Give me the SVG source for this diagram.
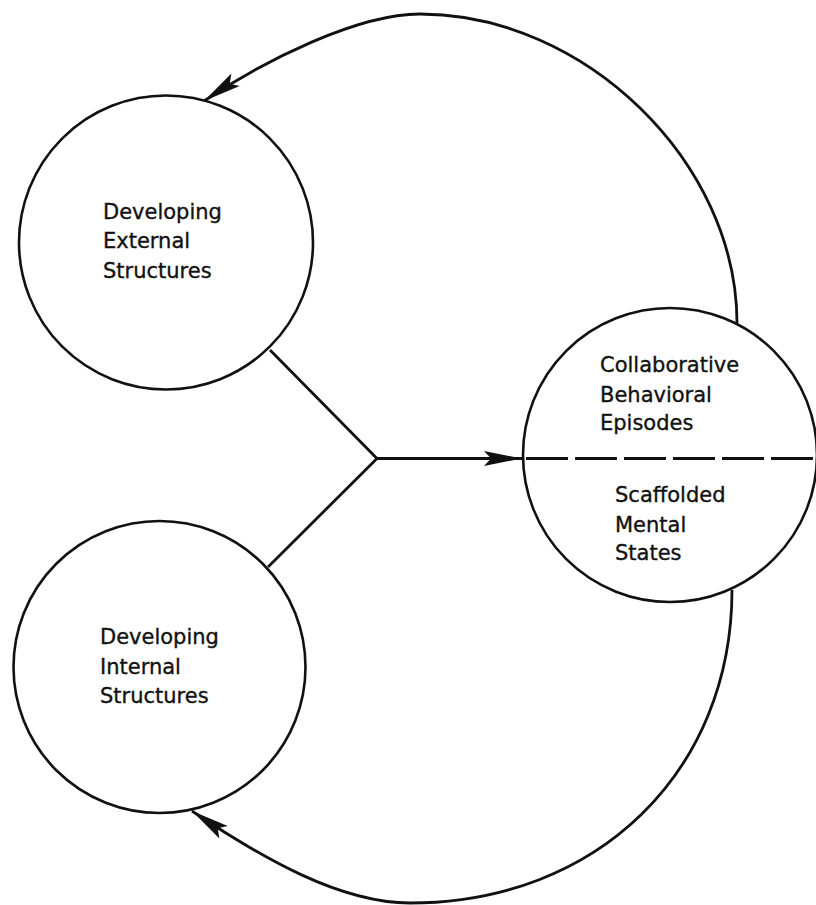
<svg xmlns="http://www.w3.org/2000/svg" width="816" height="905" viewBox="0 0 816 905">
<style>
  .node { fill: #ffffff; stroke: #111111; stroke-width: 2.6; }
  .label { font-family: "DejaVu Sans", "Liberation Sans", sans-serif; font-size: 21px; fill: #111111; stroke: #111111; stroke-width: 0.35; }
  .conn { fill: none; stroke: #111111; stroke-width: 2.8; }
  .dash { fill: none; stroke: #111111; stroke-width: 3; stroke-dasharray: 42 7; }
</style>
<defs>
  <marker id="arrow" markerUnits="userSpaceOnUse" viewBox="-40 -10 42 20" markerWidth="42" markerHeight="20" refX="0" refY="0" orient="auto">
    <path d="M0,0 L-38,-7.5 L-31,0 L-38,7.5 Z" fill="#111111"/>
  </marker>
</defs>
<rect width="816" height="905" fill="#ffffff"/>

<g id="connectors">
  <path class="conn" d="M737,323 C737,162.3 584.8,14 420,14 C358,14 265,60 204,101" marker-end="url(#arrow)"/>
  <path class="conn" d="M732,590 C732,772 596.8,903 410,903 C340,903 262,858 192,811" marker-end="url(#arrow)"/>
  <path class="conn" d="M270,350 L377,458.5 L268,567"/>
  <path class="conn" d="M377,458.5 L522,458.5" marker-end="url(#arrow)"/>
</g>

<g id="external">
  <circle class="node" cx="166" cy="242.5" r="147"/>
  <text class="label" x="103" y="218.5">Developing</text>
  <text class="label" x="103" y="248">External</text>
  <text class="label" x="103" y="277.5">Structures</text>
</g>

<g id="internal">
  <circle class="node" cx="159.5" cy="667" r="146"/>
  <text class="label" x="100" y="644">Developing</text>
  <text class="label" x="100" y="673.5">Internal</text>
  <text class="label" x="100" y="703">Structures</text>
</g>

<g id="episodes">
  <circle class="node" cx="670" cy="455" r="147"/>
  <line class="dash" x1="526" y1="458.5" x2="816" y2="458.5"/>
  <text class="label" x="600" y="372">Collaborative</text>
  <text class="label" x="600" y="401.5">Behavioral</text>
  <text class="label" x="600" y="430">Episodes</text>
  <text class="label" x="615" y="502">Scaffolded</text>
  <text class="label" x="615" y="531.5">Mental</text>
  <text class="label" x="615" y="560">States</text>
</g>
</svg>
